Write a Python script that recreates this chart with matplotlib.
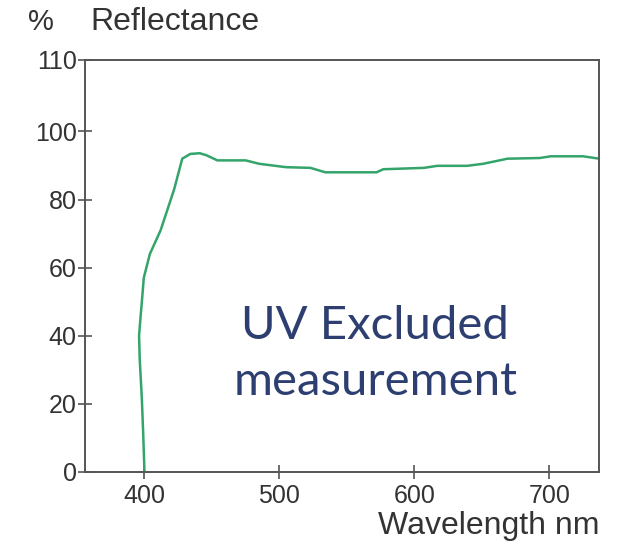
import matplotlib
matplotlib.use("Agg")
from matplotlib import pyplot as plt

# reflectance curve
wavelength = [400, 399, 398, 396.5, 396, 397, 398.5, 399.5, 404, 412, 422, 428,
              434, 441, 446, 454, 475, 485, 505, 523, 534, 572, 577, 607, 617,
              639, 651, 669, 693, 701, 725, 737]
reflectance = [0, 12, 22, 33, 40, 45, 52, 57, 64, 71, 83, 92,
               93.4, 93.6, 93, 91.5, 91.5, 90.5, 89.5, 89.3, 88, 88, 88.9, 89.3, 89.9,
               89.9, 90.5, 92, 92.2, 92.7, 92.7, 92]

x_ticks = [400, 500, 600, 700]
y_ticks = [0, 20, 40, 60, 80, 100, 121]
y_tick_labels = ["0", "20", "40", "60", "80", "100", "110"]

plt.rcParams['font.family'] = ['Liberation Sans', 'DejaVu Sans']

fig = plt.figure(figsize=(6.21, 5.5), dpi=100)
ax = fig.add_axes([0.137, 0.142, 0.828, 0.749])

ax.plot(wavelength, reflectance, color="#33a46a", lw=1.8)

ax.set_xlim(356, 737)
ax.set_ylim(0, 121)
ax.set_xticks(x_ticks)
ax.set_yticks(y_ticks)
ax.set_yticklabels(y_tick_labels)

for s in ax.spines.values():
    s.set_color("#555555")
    s.set_linewidth(1.4)
ax.tick_params(direction="inout", length=10, width=1.2, color="#555555",
               labelsize=18, labelcolor="#333333")
ax.tick_params(axis="x", pad=4)
ax.tick_params(axis="y", pad=1)

fig.text(0.045, 0.96, "%", fontsize=21, color="#333333", va="center")
fig.text(0.145, 0.96, "Reflectance", fontsize=23, color="#333333", va="center")
fig.text(0.966, 0.043, "Wavelength nm", fontsize=23, color="#333333",
         va="center", ha="right")

ax.text(0.564, 0.323, "UV Excluded", transform=ax.transAxes, ha="center",
        va="baseline", fontsize=34, color="#2c3f70", family=["Lato", "DejaVu Sans"])
ax.text(0.566, 0.187, "measurement", transform=ax.transAxes, ha="center",
        va="baseline", fontsize=34, color="#2c3f70", family=["Lato", "DejaVu Sans"])

plt.savefig("out.png", dpi=100)
